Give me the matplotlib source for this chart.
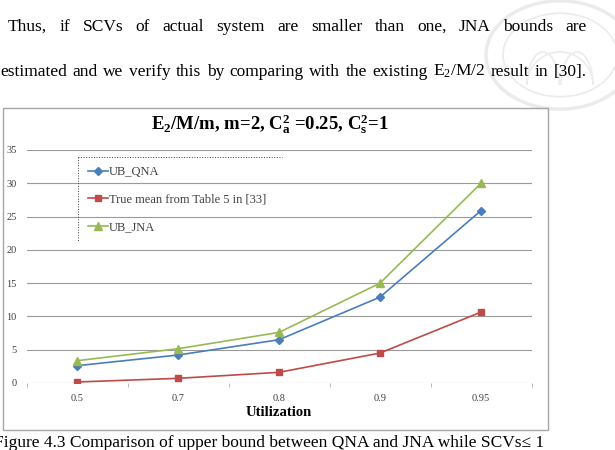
import numpy as np
import matplotlib
matplotlib.use('Agg')
import matplotlib.pyplot as plt
from matplotlib.patches import Rectangle, Circle, Arc
from matplotlib.lines import Line2D

W, H = 615, 450

utilization = ['0.5', '0.7', '0.8', '0.9', '0.95']
ub_qna = [2.6, 4.2, 6.5, 12.9, 25.9]
true_mean = [0.15, 0.7, 1.6, 4.5, 10.65]
ub_jna = [3.35, 5.15, 7.6, 15.0, 30.0]
y_ticks = [0, 5, 10, 15, 20, 25, 30, 35]

series_labels = ['UB_QNA', 'True mean from Table 5 in [33]', 'UB_JNA']
line1 = 'Thus, if SCVs of actual system are smaller than one, JNA bounds are'
line2 = r'estimated and we verify this by comparing with the existing E$_2$/M/2 result in [30].'
caption = 'Figure 4.3 Comparison of upper bound between QNA and JNA while SCVs\u2264 1'
title = r'E$_\mathbf{2}$/M/m, m=2, C$_\mathbf{a}^\mathbf{2}$ =0.25, C$_\mathbf{s}^\mathbf{2}$=1'

BLUE = '#4a7ebb'
RED = '#be4b48'
GREEN = '#98b954'
GREY_TXT = '#404040'

plt.rcParams['font.family'] = ['Liberation Serif', 'DejaVu Serif']
plt.rcParams['mathtext.fontset'] = 'custom'
plt.rcParams['mathtext.rm'] = 'Liberation Serif'
plt.rcParams['mathtext.it'] = 'Liberation Serif:italic'
plt.rcParams['mathtext.bf'] = 'Liberation Serif:bold'


def fx(px):
    return px / W


def fy(py):
    return 1 - py / H


def justify(fig, text, x0, x1, y, size):
    # spread the words of one line between x0 and x1 (pixels)
    words = text.split(' ')
    r = fig.canvas.get_renderer()
    arts = [fig.text(0, fy(y), w, fontsize=size, va='baseline') for w in words]
    widths = [a.get_window_extent(r).width for a in arts]
    gap = (x1 - x0 - sum(widths)) / (len(words) - 1)
    x = x0
    for a, w in zip(arts, widths):
        a.set_x(fx(x))
        x += w + gap


fig = plt.figure(figsize=(W / 100, H / 100), dpi=100)

# faint seal in the page corner
seal_c = (fx(560), fy(55))
for rad, lw in [(74, 2.5), (57, 1.2)]:
    fig.add_artist(Circle(seal_c, rad / W, transform=fig.transFigure, fill=False,
                          edgecolor='#ebebeb', lw=lw, zorder=-3))
for cx, wd in [(543, 32), (577, 32), (560, 66)]:
    fig.add_artist(Arc((fx(cx), fy(85)), wd / W, 66 / H, theta1=0, theta2=180,
                       transform=fig.transFigure, edgecolor='#ededed', lw=1.3, zorder=-3))

# page text
justify(fig, line1, 8, 587, 31, 12.5)
justify(fig, line2, 0, 587, 76, 12.5)
fig.text(fx(-6), fy(447), caption, fontsize=12.5, va='baseline')

# chart area
fig.add_artist(Rectangle((fx(3), fy(430)), fx(548) - fx(3), fy(108) - fy(430),
                         transform=fig.transFigure, facecolor='white',
                         edgecolor='#a6a6a6', lw=1, zorder=-1))
fig.text(fx(270), fy(124), title, fontsize=13.5, fontweight='bold', ha='center', va='center')

ax = fig.add_axes([fx(26.5), fy(383), fx(531.5) - fx(26.5), fy(150) - fy(383)])
ax.patch.set_visible(False)
x = np.arange(len(utilization))
ax.plot(x, ub_qna, color=BLUE, marker='D', ms=3.8, lw=1.2, label=series_labels[0])
ax.plot(x, true_mean, color=RED, marker='s', ms=4.8, lw=1.2, label=series_labels[1])
ax.plot(x, ub_jna, color=GREEN, marker='^', ms=5.2, lw=1.2, label=series_labels[2])

ax.set_xlim(-0.5, len(utilization) - 0.5)
ax.set_ylim(0, 35)
ax.set_yticks(y_ticks)
ax.grid(axis='y', color='#9a9a9a', lw=0.8)
ax.set_axisbelow(True)
for s in ax.spines.values():
    s.set_visible(False)
ax.set_xticks(x, utilization)
ax.set_xticks(np.arange(-0.5, len(utilization), 1), minor=True)
ax.tick_params(axis='x', which='major', length=0, pad=8, labelsize=7.5, labelcolor=GREY_TXT)
ax.tick_params(axis='x', which='minor', length=3, color='#b0b0b0', direction='out')
ax.tick_params(axis='y', length=0, pad=7, labelsize=7.5, labelcolor=GREY_TXT)
ax.set_xlabel('Utilization', fontsize=10.5, fontweight='bold', labelpad=2)

leg = fig.legend(loc='center left', bbox_to_anchor=(fx(88), fy(199.6)), frameon=False,
                 fontsize=9, handlelength=1.6, handletextpad=0.1, labelspacing=1.25,
                 borderpad=0, borderaxespad=0)
for t in leg.get_texts():
    t.set_color(GREY_TXT)
fig.add_artist(Line2D([fx(78), fx(282)], [fy(157), fy(157)], ls=':', lw=0.7, color=GREY_TXT))
fig.add_artist(Line2D([fx(78), fx(78)], [fy(157), fy(242)], ls=':', lw=0.7, color=GREY_TXT))

fig.savefig('out.png', dpi=100)
